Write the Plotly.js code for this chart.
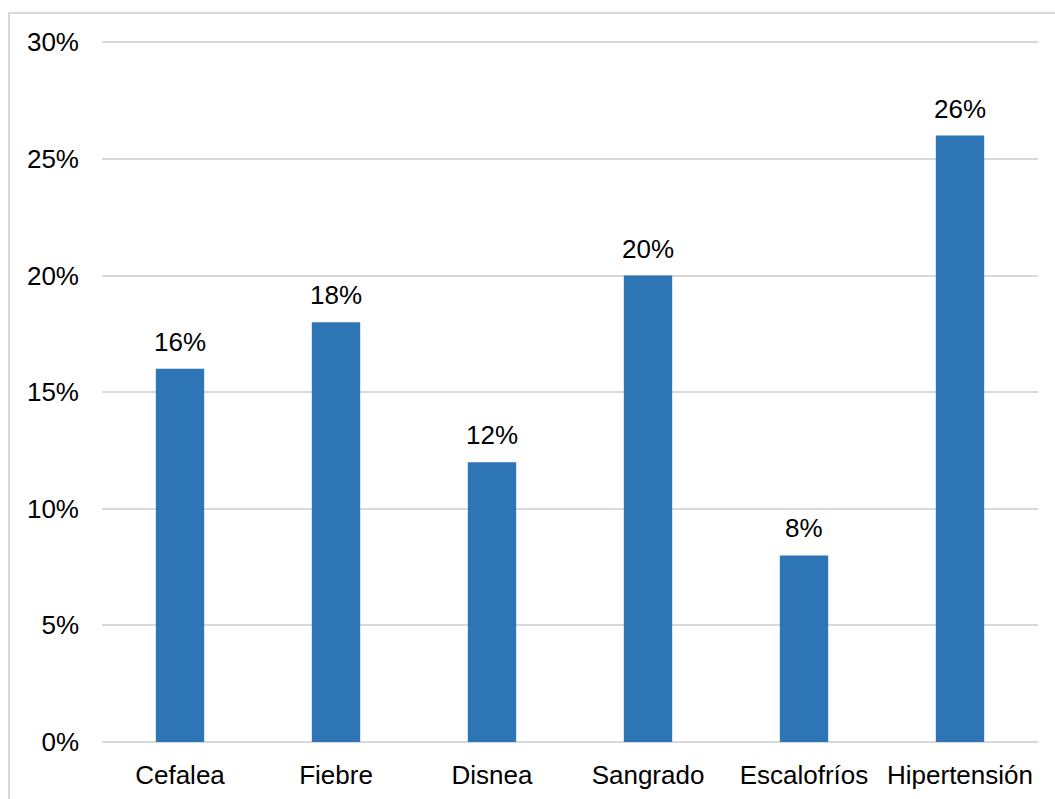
<!DOCTYPE html>
<html>
<head>
<meta charset="utf-8">
<script src="https://cdn.plot.ly/plotly-3.0.1.min.js"></script>
<style>
  html, body { margin: 0; padding: 0; background: #ffffff; }
  #chart { width: 1055px; height: 799px; }
</style>
</head>
<body>
<div id="chart"></div>
<script>
// Síntomas registrados (porcentaje de pacientes)
const categories = ['Cefalea', 'Fiebre', 'Disnea', 'Sangrado', 'Escalofríos', 'Hipertensión'];
const values = [0.16, 0.18, 0.12, 0.20, 0.08, 0.26];
const tickValues = [0, 0.05, 0.10, 0.15, 0.20, 0.25, 0.30];
const tickLabels = ['0%', '5%', '10%', '15%', '20%', '25%', '30%'];

const FONT = 'Liberation Sans, Arial, sans-serif';
const BAR_COLOR = '#2E75B6';
const GRID_COLOR = '#d9d9d9';

const trace = {
  type: 'bar',
  x: categories,
  y: values,
  marker: { color: BAR_COLOR, line: { width: 0 } },
  width: 0.31,
  hoverinfo: 'skip'
};

// Value labels above each bar
const annotations = categories.map((c, i) => ({
  x: c,
  y: values[i],
  xref: 'x',
  yref: 'y',
  text: Math.round(values[i] * 100) + '%',
  showarrow: false,
  yanchor: 'bottom',
  yshift: 10,
  font: { family: FONT, size: 26, color: '#000000' }
}));

// Plot area: 102..1038 px horizontally, 40..742 px vertically
const layout = {
  width: 1055,
  height: 799,
  margin: { l: 102, r: 17, t: 40, b: 57, pad: 0 },
  paper_bgcolor: '#ffffff',
  plot_bgcolor: '#ffffff',
  showlegend: false,
  bargap: 0.69,
  xaxis: {
    type: 'category',
    showgrid: false,
    showline: false,
    zeroline: false,
    ticks: '',
    ticklabelstandoff: 15,
    tickfont: { family: FONT, size: 26, color: '#000000' },
    fixedrange: true
  },
  yaxis: {
    range: [0, 0.301],
    tickvals: tickValues,
    ticktext: tickLabels,
    showgrid: true,
    gridcolor: GRID_COLOR,
    gridwidth: 2,
    zeroline: true,
    zerolinecolor: GRID_COLOR,
    zerolinewidth: 2,
    showline: false,
    ticks: '',
    ticklabelstandoff: 22,
    tickfont: { family: FONT, size: 26, color: '#000000' },
    fixedrange: true
  },
  annotations: annotations,
  shapes: [{
    type: 'rect',
    xref: 'paper',
    yref: 'paper',
    x0: (9 - 102) / 936,
    x1: (1100 - 102) / 936,
    y0: (742 - 850) / 702,
    y1: (742 - 13) / 702,
    line: { color: GRID_COLOR, width: 2 },
    fillcolor: 'rgba(0,0,0,0)',
    layer: 'below'
  }]
};

Plotly.newPlot('chart', [trace], layout, { displayModeBar: false, staticPlot: true });
</script>
</body>
</html>
